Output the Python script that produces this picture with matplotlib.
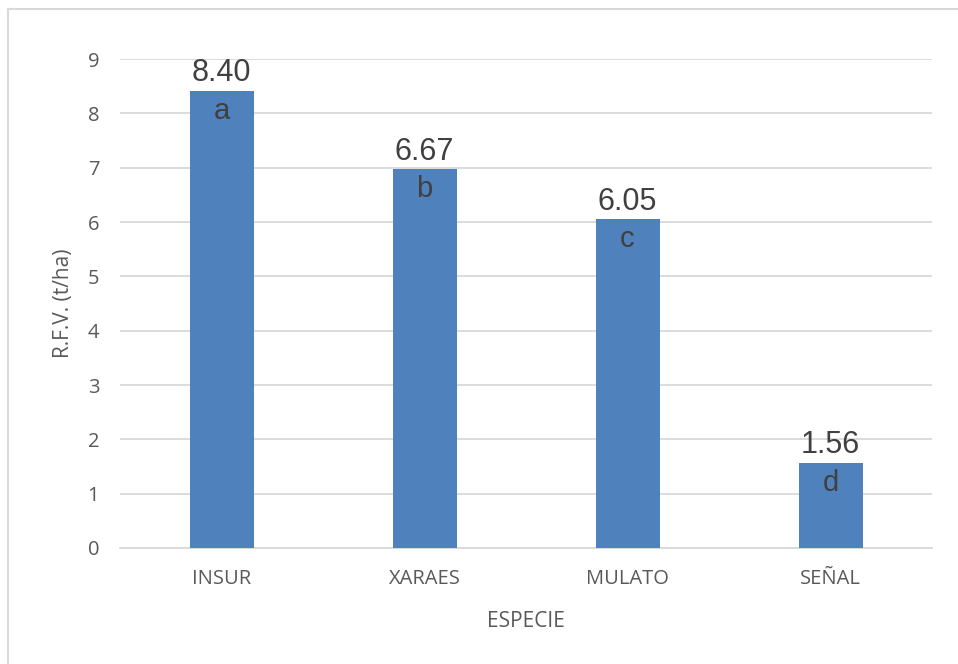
import matplotlib.pyplot as plt
from matplotlib.lines import Line2D

# data
species = ['INSUR', 'XARAES', 'MULATO', 'SEÑAL']
rfv = [8.41, 6.97, 6.05, 1.56]
value_labels = ['8.40', '6.67', '6.05', '1.56']
letters = ['a', 'b', 'c', 'd']
y_ticks = list(range(0, 10))

plt.rcParams['font.family'] = ['Open Sans', 'DejaVu Sans']

fig = plt.figure(figsize=(9.58, 6.64), dpi=100)
ax = fig.add_axes([0.1253, 0.1747, 0.8476, 0.7364])

x = range(len(species))
bars = ax.bar(x, rfv, width=0.315, color='#4F81BD', zorder=3)

for b, lab, let in zip(bars, value_labels, letters):
    cx = b.get_x() + b.get_width() / 2
    top = b.get_height()
    ax.annotate(lab, (cx, top), xytext=(0, 2), textcoords='offset points',
                ha='center', va='bottom', fontsize=22, color='#404040',
                family=['Liberation Sans', 'DejaVu Sans'], zorder=4)
    ax.annotate(let, (cx, top), xytext=(0, -20), textcoords='offset points',
                ha='center', va='baseline', fontsize=21, color='#404040',
                family=['Liberation Sans', 'DejaVu Sans'], zorder=4)

ax.set_xlim(-0.5, len(species) - 0.5)
ax.set_ylim(0, 9)
ax.set_yticks(y_ticks)
ax.set_xticks(list(x))
ax.set_xticklabels(species)
ax.tick_params(length=0, labelsize=14.5, colors='#595959')
ax.tick_params(axis='x', pad=15)
ax.tick_params(axis='y', pad=15)
ax.grid(axis='y', color='#D9D9D9', linewidth=1.3, zorder=0)
for s in ['top', 'right', 'left']:
    ax.spines[s].set_visible(False)
ax.spines['bottom'].set_color('#D9D9D9')
ax.spines['bottom'].set_linewidth(1.3)
ax.spines['bottom'].set_zorder(1)

ax.set_xlabel('ESPECIE', fontsize=15, color='#595959', labelpad=16)
ax.set_ylabel('R.F.V. (t/ha)', fontsize=15, color='#595959', labelpad=10)

# chart area border (only left and top edges visible in the reference)
W, H = 958, 664
fig.add_artist(Line2D([8 / W, 8 / W], [1 - 9 / H, 0], color='#D9D9D9',
                      linewidth=1.5, transform=fig.transFigure))
fig.add_artist(Line2D([8 / W, 1], [1 - 9 / H, 1 - 9 / H], color='#D9D9D9',
                      linewidth=1.5, transform=fig.transFigure))

fig.savefig('out.png', dpi=100)
